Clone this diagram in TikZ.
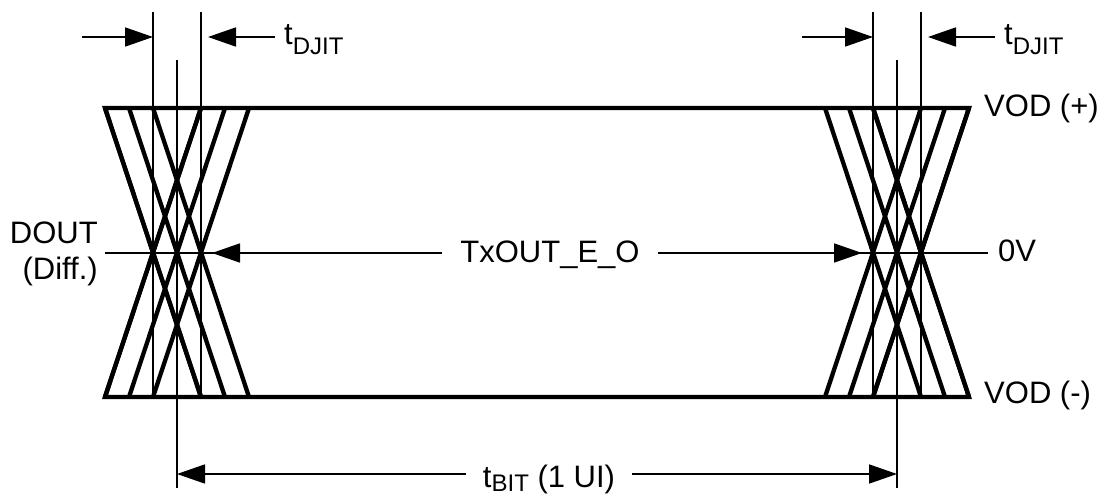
\documentclass[tikz,border=0pt]{standalone}
\usepackage{fontspec}
\setmainfont{Liberation Sans}
\usetikzlibrary{arrows.meta,calc,positioning}

\newcommand{\tsub}[2][-8pt]{\raisebox{#1}{\fontsize{24}{24}\selectfont #2}}

\tikzset{
	wave/.style={line width=4.3pt,line join=miter},
	guide/.style={line width=1.8pt},
	dim/.style={guide,-{Triangle[length=28pt,width=19pt]}},
	lbl/.style={inner sep=0pt,font=\fontsize{31}{36}\selectfont},
}

\begin{document}
\begin{tikzpicture}[x=1pt,y=-1pt]
	\useasboundingbox (0,0) rectangle (1106,500);
	%
	\foreach \c in {153,177,201,873,897,921} {
		\draw[wave] (\c-48,108) -- (\c+48,397);
		\draw[wave] (\c-48,397) -- (\c+48,108);
	}
	\draw[wave] (201,397) -- (105,108) -- (969,108) -- (873,397);
	\draw[wave] (201,108) -- (105,397) -- (969,397) -- (873,108);
	%
	\foreach \c in {153,201,873,921} \draw[guide] (\c,12) -- (\c,397);
	\foreach \c in {177,897} \draw[guide] (\c,60) -- (\c,488);
	%
	\foreach \c/\n in {153/l,873/r} {
		\coordinate (in\n) at (\c-71,37);
		\coordinate (ja\n) at (\c,37);
		\coordinate (jb\n) at (\c+55,37);
		\node[lbl,inner xsep=9pt,anchor=base west] (djit\n) at (\c+122,45) {t\tsub[-10pt]{DJIT}};
		\draw[dim] (in\n) -- (ja\n);
		\draw[dim] (djit\n.west |- jb\n) -- (jb\n);
	}
	%
	\coordinate (z0) at (105,253);
	\coordinate (z1) at (212,253);
	\coordinate (z2) at (862,253);
	\coordinate (z3) at (988,253);
	\node[lbl,inner xsep=18pt,anchor=base] (txo) at (550,262) {TxOUT\_E\_O};
	\draw[guide] (z0) -- (txo.west |- z0);
	\draw[dim] (txo.west |- z0) -- (z1);
	\draw[guide] (txo.east |- z0) -- (z3);
	\draw[dim] (txo.east |- z0) -- (z2);
	%
	\coordinate (b0) at (177,474);
	\coordinate (b1) at (897,474);
	\node[lbl,inner xsep=17pt,anchor=base] (tbit) at (549,487) {t\tsub[-4pt]{BIT} (1 UI)};
	\draw[dim] (tbit.west |- b0) -- (b0);
	\draw[dim] (tbit.east |- b1) -- (b1);
	%
	\node[lbl,anchor=base west] (vp) at (984,117) {VOD (+)};
	\node[lbl,anchor=base west] (vm) at (984,403) {VOD (-)};
	\node[lbl,anchor=base west] (zv) at (998,261) {0V};
	\node[lbl,align=right,anchor=east] (dout) at (98,254) {DOUT\\(Diff.)};
\end{tikzpicture}
\end{document}
